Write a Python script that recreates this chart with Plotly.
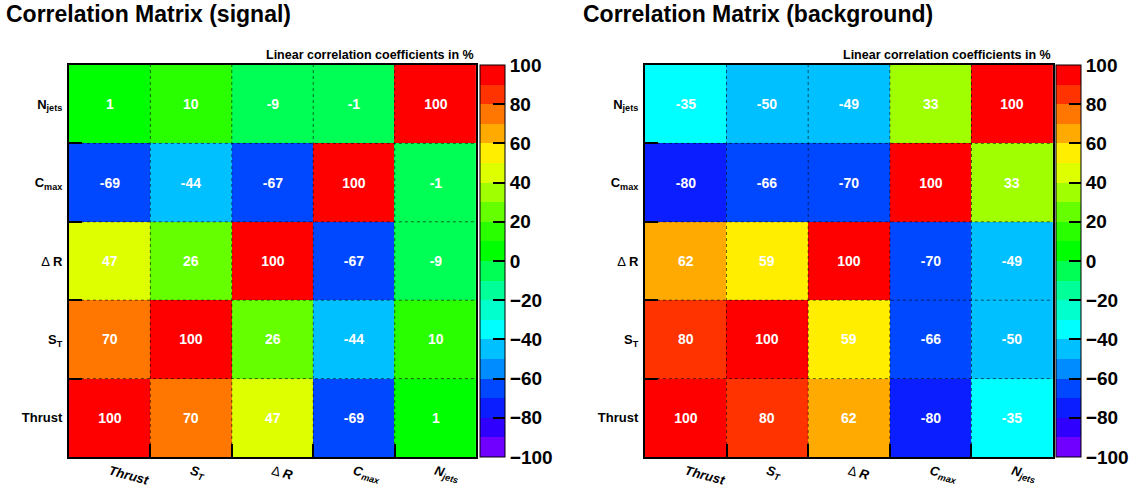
import plotly.graph_objects as go

# Input variables (bottom-to-top on y, left-to-right on x)
variables = ["Thrust", "S_T", "DeltaR", "C_max", "N_jets"]
x_tick_text = [
    "<b><i>Thrust</i></b>",
    "<b><i>S<sub>T</sub></i></b>",
    "Δ <b><i>R</i></b>",
    "<b><i>C<sub>max</sub></i></b>",
    "<b><i>N<sub>jets</sub></i></b>",
]
y_tick_text = [
    "<b>Thrust</b>",
    "<b>S<sub>T</sub></b>",
    "Δ <b>R</b>",
    "<b>C<sub>max</sub></b>",
    "<b>N<sub>jets</sub></b>",
]

# Linear correlation coefficients in %, rows follow `variables`
signal_corr = [
    [100, 70, 47, -69, 1],
    [70, 100, 26, -44, 10],
    [47, 26, 100, -67, -9],
    [-69, -44, -67, 100, -1],
    [1, 10, -9, -1, 100],
]
background_corr = [
    [100, 80, 62, -80, -35],
    [80, 100, 59, -66, -50],
    [62, 59, 100, -70, -49],
    [-80, -66, -70, 100, 33],
    [-35, -50, -49, 33, 100],
]

colorbar_ticks = [-100, -80, -60, -40, -20, 0, 20, 40, 60, 80, 100]

# 20-step palette, -100 .. 100 in bins of 10
palette = [
    "#7000ff", "#3000ff", "#0a1eff", "#0048ff", "#008cff",
    "#00c0ff", "#00ffff", "#00ffcc", "#00ff99", "#00ff55",
    "#00ff00", "#2aff00", "#66ff00", "#a0ff00", "#ddff00",
    "#ffee00", "#ffaa00", "#ff7700", "#ff3300", "#ff0000",
]

# Discrete colorscale; a value on a bin edge goes to the upper bin
eps = 1e-4
colorscale = [[0.0, palette[0]]]
for k in range(1, 20):
    b = k / 20 - eps
    colorscale.append([b, palette[k - 1]])
    colorscale.append([b, palette[k]])
colorscale.append([1.0, palette[-1]])

W, H = 1142, 491
FONT = "Liberation Sans"


def fx(p):
    return p / W


def fy(p):
    return 1 - p / H


plot_top, plot_bottom = 65, 457
panels = [
    dict(data=signal_corr, title="Correlation Matrix (signal)",
         left=69, right=477, cbar=481, title_x=4),
    dict(data=background_corr, title="Correlation Matrix (background)",
         left=646, right=1055, cbar=1058, title_x=582),
]

fig = go.Figure()
for i, p in enumerate(panels):
    suffix = "" if i == 0 else str(i + 1)
    text = [[str(v) for v in row] for row in p["data"]]
    fig.add_trace(go.Heatmap(
        z=p["data"], x=variables, y=variables,
        text=text, texttemplate="%{text}",
        textfont=dict(family=FONT, size=14, color="white", weight="bold"),
        colorscale=colorscale, zmin=-100, zmax=100,
        xaxis="x" + suffix, yaxis="y" + suffix,
        colorbar=dict(
            x=fx(p["cbar"]), xanchor="left", xpad=0, ypad=0,
            y=fy((plot_top + plot_bottom) / 2), yanchor="middle",
            len=plot_bottom - plot_top, lenmode="pixels",
            thickness=25, thicknessmode="pixels",
            outlinecolor="black", outlinewidth=1,
            tickvals=colorbar_ticks, ticks="inside", ticklen=12,
            tickwidth=1.5, tickcolor="black",
            tickfont=dict(family=FONT, size=19, color="black", weight="bold"),
        ),
        hoverongaps=False,
    ))

    axis_common = dict(
        type="category", showline=True, linecolor="black", linewidth=2,
        mirror=True, ticks="inside", tickson="boundaries", ticklen=13,
        tickcolor="black", tickwidth=1.5, showgrid=False, zeroline=False,
        fixedrange=True,
    )
    fig.update_layout(**{
        "xaxis" + suffix: dict(
            axis_common, domain=[fx(p["left"]), fx(p["right"])],
            anchor="y" + suffix, tickvals=variables, ticktext=x_tick_text,
            tickangle=15, range=[-0.5, 4.5],
            tickfont=dict(family=FONT, size=13, color="black"),
        ),
        "yaxis" + suffix: dict(
            axis_common, domain=[fy(plot_bottom), fy(plot_top)],
            anchor="x" + suffix, tickvals=variables, ticktext=y_tick_text,
            range=[-0.5, 4.5], ticklabelstandoff=2,
            tickfont=dict(family=FONT, size=13, color="black"),
        ),
    })

    # dotted cell separators
    for k in range(4):
        fig.add_shape(type="line", xref="x" + suffix, yref="y" + suffix,
                      x0=k + 0.5, x1=k + 0.5, y0=-0.5, y1=4.5, layer="above",
                      line=dict(color="rgba(0,0,0,0.6)", width=1, dash="dot"))
        fig.add_shape(type="line", xref="x" + suffix, yref="y" + suffix,
                      x0=-0.5, x1=4.5, y0=k + 0.5, y1=k + 0.5, layer="above",
                      line=dict(color="rgba(0,0,0,0.6)", width=1, dash="dot"))

    fig.add_annotation(
        text="<b>" + p["title"] + "</b>", xref="paper", yref="paper",
        x=fx(p["title_x"]), y=fy(14), xanchor="left", yanchor="middle",
        showarrow=False, font=dict(family=FONT, size=23, color="black"),
    )
    fig.add_annotation(
        text="<b>Linear correlation coefficients in %</b>",
        xref="paper", yref="paper",
        x=fx(p["right"]), y=fy(55), xanchor="right", yanchor="middle",
        showarrow=False, font=dict(family=FONT, size=12.5, color="black"),
    )

fig.update_layout(
    width=W, height=H, margin=dict(l=0, r=0, t=0, b=0),
    paper_bgcolor="white", plot_bgcolor="white", showlegend=False,
    font=dict(family=FONT, color="black"),
)

fig.write_html("out.html")
